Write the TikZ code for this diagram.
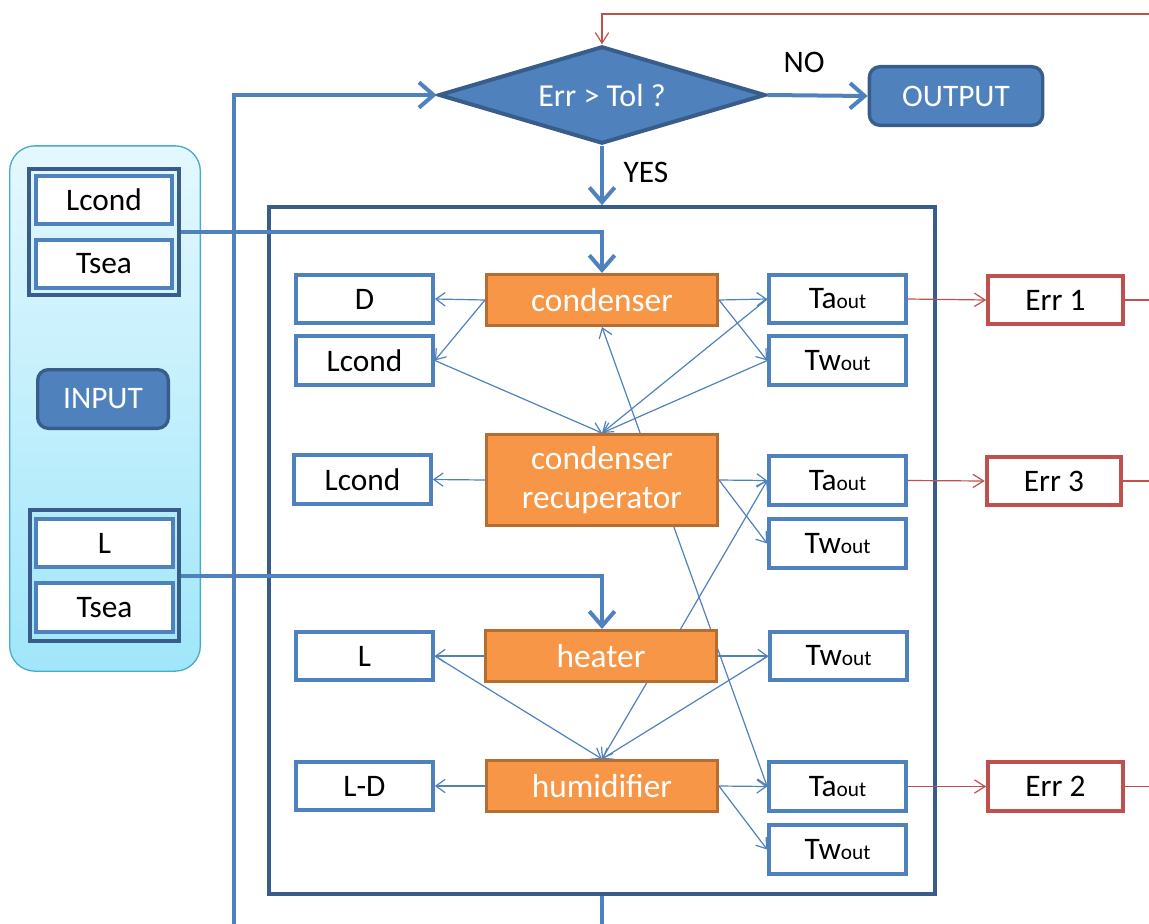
\documentclass[tikz,border=0pt]{standalone}
\usepackage{fontspec}
\setmainfont{Carlito}
\usetikzlibrary{shapes.geometric,arrows.meta,calc}
\definecolor{accblue}{RGB}{79,129,189}
\definecolor{darkblue}{RGB}{56,93,138}
\definecolor{accorange}{RGB}{247,150,70}
\definecolor{darkorange}{RGB}{182,109,49}
\definecolor{accred}{RGB}{192,80,77}
\definecolor{paneltop}{RGB}{228,248,254}
\definecolor{panelbot}{RGB}{160,230,250}
\definecolor{panelline}{RGB}{75,172,198}
\pgfdeclarelayer{background}
\pgfsetlayers{background,main}
\newcommand{\outsub}{{\fontsize{16}{16}\selectfont out}}

\tikzset{
  varbox/.style={draw=accblue, line width=3pt, fill=white, minimum width=102.5pt, minimum height=36.5pt, inner sep=0pt},
  unitbox/.style={draw=darkorange, line width=2.5pt, fill=accorange, text=white, minimum width=173pt, minimum height=38pt, inner sep=0pt, align=center, font=\fontsize{25}{29}\selectfont},
  groupbox/.style={draw=darkblue, line width=3pt, inner sep=0pt},
  termbox/.style={draw=darkblue, line width=2.5pt, fill=accblue, text=white, rounded corners=8pt, inner sep=0pt},
  errbox/.style={draw=accred, line width=3pt, fill=white, minimum width=101pt, minimum height=36.5pt, inner sep=0pt},
  flow/.style={accblue, line width=3pt, -{Straight Barb[length=11pt,width=19pt]}},
  link/.style={accblue, line width=0.9pt, -{Straight Barb[length=7pt,width=10pt]}},
  errlink/.style={accred, line width=0.9pt, -{Straight Barb[length=8pt,width=10pt]}},
}

\begin{document}
\begin{tikzpicture}[x=0.75pt,y=0.75pt,yscale=-1,xscale=1,font=\fontsize{23.5}{28.5}\selectfont]
\useasboundingbox (0,0) rectangle (1149,924);

%Shape: input panel
\node[draw=panelline, line width=1pt, top color=paneltop, bottom color=panelbot, rounded corners=19pt, minimum width=143pt, minimum height=394pt] (inpanel) at (105,408.5) {};
%Shape: input groups
\node[groupbox, minimum width=112.5pt, minimum height=94.5pt] (grpA) at (104,232) {};
\node[varbox] (inLcond) at (104,200) {Lcond};
\node[varbox] (inTsea) at (104,264) {Tsea};
\node[termbox, minimum width=98pt, minimum height=44pt] (input) at (103,399) {INPUT};
\node[groupbox, minimum width=111.75pt, minimum height=98.25pt] (grpB) at (104.5,575.5) {};
\node[varbox] (inL) at (104.5,543) {L};
\node[varbox] (inTseaB) at (104.5,607.5) {Tsea};

%Shape: decision and output
\node[diamond, aspect=3.28, draw=darkblue, line width=3pt, fill=accblue, text=white, minimum width=245pt, minimum height=73pt, inner sep=0pt, font=\fontsize{24}{28}\selectfont] (dec) at (602,95) {Err > Tol ?};
\node[termbox, minimum width=130pt, minimum height=44pt] (output) at (956,96) {OUTPUT};
\node (nolbl) at (804,62) {NO};
\node (yeslbl) at (646,172) {YES};

%Shape: system frame
\node[draw=darkblue, line width=3pt, minimum width=499.5pt, minimum height=515pt] (sys) at (602,550.5) {};

%Shape: components
\node[unitbox] (cond) at (602,300) {condenser};
\node[unitbox, minimum height=68pt] (recup) at (602,480) {condenser\\recuperator};
\node[unitbox] (heat) at (601,656) {heater};
\node[unitbox] (humid) at (602,786) {humidifier};

%Shape: left variables
\node[varbox] (vD) at (364.5,299) {D};
\node[varbox] (vLcA) at (364.5,360.5) {Lcond};
\node[varbox] (vLcB) at (362.5,479.5) {Lcond};
\node[varbox] (vL) at (364.5,656) {L};
\node[varbox] (vLD) at (364.5,786) {L-D};

%Shape: right variables
\node[varbox] (taA) at (837.5,299) {Ta\outsub};
\node[varbox] (twA) at (837.5,360.5) {Tw\outsub};
\node[varbox] (taC) at (837.5,480.5) {Ta\outsub};
\node[varbox] (twC) at (837.5,543.5) {Tw\outsub};
\node[varbox] (twD) at (838.5,656) {Tw\outsub};
\node[varbox] (taB) at (837.5,786.5) {Ta\outsub};
\node[varbox] (twB) at (837.5,849.5) {Tw\outsub};

%Shape: errors
\node[errbox] (err1) at (1055.5,300) {Err 1};
\node[errbox] (err3) at (1054,481) {Err 3};
\node[errbox] (err2) at (1055.5,786.5) {Err 2};

%Free ends at the border
\coordinate (rim) at (1149,14);
\coordinate (loopin) at (234,924);
\coordinate (loopout) at (602,924);

%Straight Lines: main flow
\draw[flow] (dec.east) -- (output.west);
\draw[flow] (dec.south) -- (sys.north);
\draw[flow] (loopin) |- (dec.west);
\draw[accblue, line width=3pt] (sys.south) -- (loopout);
\draw[flow] (grpA.east) -| (cond.north);
\draw[flow] (grpB.east) -| (cond.north |- heat.north);

%Straight Lines: errors
\draw[errlink] (taA.east) -- (err1.west);
\draw[errlink] (taC.east) -- (err3.west);
\draw[errlink] (taB.east) -- (err2.west);
\draw[accred, line width=0.9pt] (err1.east) -- (err1.east -| rim);
\draw[accred, line width=0.9pt] (err3.east) -- (err3.east -| rim);
\draw[accred, line width=0.9pt] (err2.east) -- (err2.east -| rim);
\draw[errlink] (rim) -| (dec.north);

%Straight Lines: model links
\begin{pgfonlayer}{background}
\draw[link] (cond.west) -- (vD.east);
\draw[link] (cond.west) -- (vLcA.east);
\draw[link] (cond.east) -- (taA.west);
\draw[link] (cond.east) -- (twA.west);
\draw[link] (vLcA.east) -- (recup.north);
\draw[link] (taA.west) -- (recup.north);
\draw[link] (twA.west) -- (recup.north);
\draw[link, {Straight Barb[length=7pt,width=10pt]}-{Straight Barb[length=7pt,width=10pt]}] (taB.west) -- (cond.south);
\draw[link] (recup.west) -- (vLcB.east);
\draw[link] (recup.east) -- (taC.west);
\draw[link] (recup.east) -- (twC.west);
\draw[link] ($(heat.north)!0.68!(heat.north east)$) -- (taC.west);
\draw[link] (heat.west) -- (vL.east);
\draw[link] (heat.east) -- (twD.west);
\draw[link] (vL.east) -- (humid.north);
\draw[link] ($(heat.south)!0.39!(heat.south east)$) -- (humid.north);
\draw[link] (twD.west) -- (humid.north);
\draw[link] (humid.west) -- (vLD.east);
\draw[link] (humid.east) -- (taB.west);
\draw[link] (humid.east) -- (twB.west);
\end{pgfonlayer}

\end{tikzpicture}
\end{document}
